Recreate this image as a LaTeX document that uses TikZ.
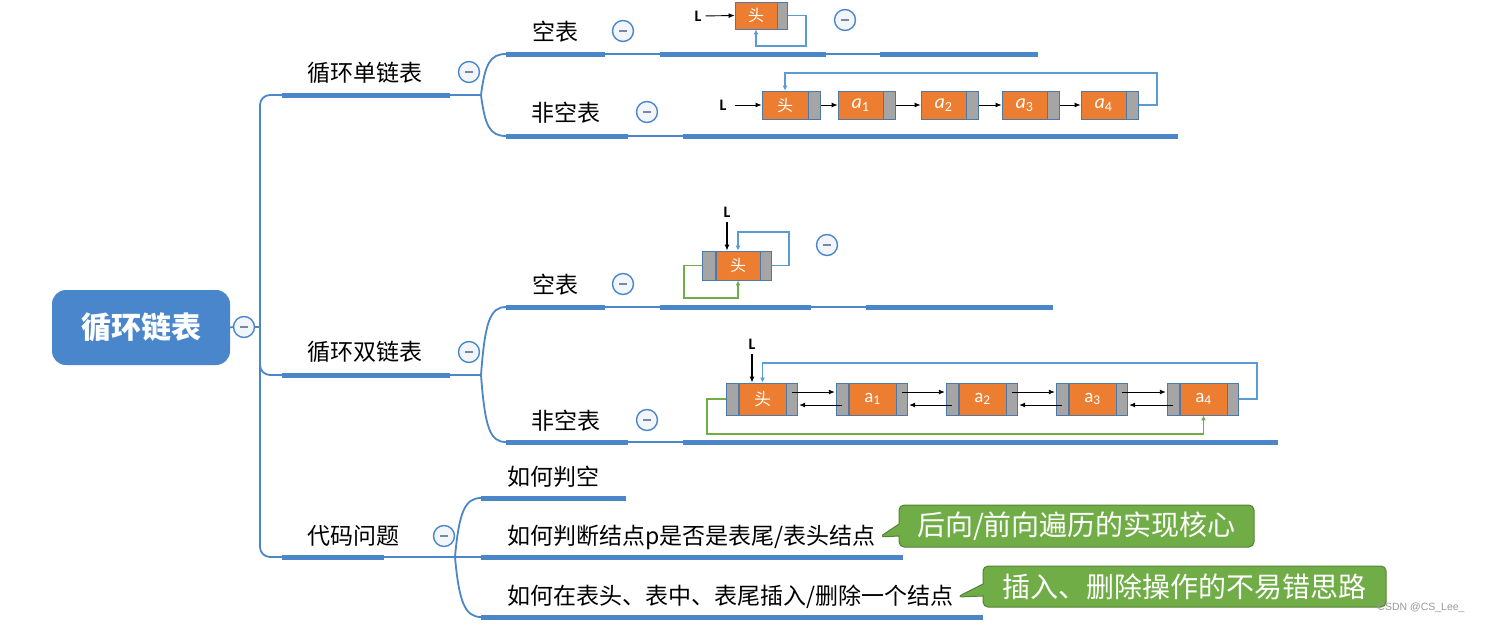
\documentclass[tikz,border=0pt]{standalone}
\usepackage{fontspec}
\setmainfont{Noto Sans CJK SC}
\newfontfamily\carl{Carlito}
\newfontfamily\libs{Liberation Sans}
\usetikzlibrary{arrows.meta,shapes.callouts}
\definecolor{mblue}{HTML}{4A86C8}
\definecolor{rootblue}{HTML}{4A86CB}
\definecolor{orng}{HTML}{ED7D31}
\definecolor{gry}{HTML}{A5A5A5}
\definecolor{edgeb}{HTML}{4D79A8}
\definecolor{lblue}{HTML}{5B9BD5}
\definecolor{grn}{HTML}{70AD47}
\definecolor{dgrn}{HTML}{548235}
\definecolor{togfill}{HTML}{F2F5FA}
\definecolor{minusc}{HTML}{7A86A8}
\begin{document}
\begin{tikzpicture}[x=1pt,y=-1pt,
  mline/.style={mblue,line width=1.8pt},
  mbar/.style={mblue,line width=5pt},
  toggle/.style={circle,draw=mblue,line width=1.4pt,fill=togfill,minimum size=21pt,inner sep=0pt,
    path picture={\draw[minusc,line width=1.3pt] ([xshift=-4pt]path picture bounding box.center) -- ([xshift=4pt]path picture bounding box.center);}},
  lab/.style={font=\fontsize{23}{23}\selectfont,inner sep=0pt},
  obox/.style={draw=edgeb,line width=0.8pt,fill=orng,text=white,inner sep=0pt},
  gbox/.style={draw=edgeb,line width=0.8pt,fill=gry,inner sep=0pt},
  lfont/.style={font=\carl\bfseries\fontsize{16}{16}\selectfont,inner sep=0pt},
  arr/.style={black,line width=0.9pt,-{Latex[length=6pt,width=5pt]}},
  bloop/.style={lblue,line width=1.2pt,-{Latex[length=5pt,width=5pt]}},
  gloop/.style={grn,line width=1.4pt,-{Latex[length=5pt,width=5pt]}},
  callbox/.style={rectangle callout,fill=grn,draw=dgrn,line width=1pt,rounded corners=5pt,
    text=white,font=\fontsize{28}{28}\selectfont,inner sep=0pt,callout pointer width=12pt}
]
\useasboundingbox (0,0) rectangle (1494,624);

% ---------- root ----------
\node[rectangle,rounded corners=14pt,fill=rootblue,minimum width=178pt,minimum height=75pt,
  text=white,font=\bfseries\fontsize{30}{30}\selectfont] (root) at (141,327.5) {循环链表};
\node[toggle] (rt) at (244,327) {};
\coordinate (tm) at (260,327);
\draw[mline] (root.east) -- (rt.west);
\draw[mline] (rt.east) -- (tm);

% ---------- trunk ----------
\coordinate (t1) at (282,95);
\coordinate (t2) at (282,375);
\coordinate (t3) at (282,557);
\coordinate (tk2) at (260,340);
\coordinate (tkb) at (260,557);
\draw[mline,rounded corners=10pt] (t1) -| (tkb) -- (t3);
\draw[mline,rounded corners=10pt] (tk2) |- (t2);

% ---------- group 1 : 循环单链表 ----------
\node[lab] (g1) at (365,73) {循环单链表};
\node[toggle] (g1t) at (469,72) {};
\coordinate (g1e) at (450,95);
\coordinate (bp1) at (481,95);
\draw[mbar] (t1) -- (g1e);
\draw[mline] (g1e) -- (bp1);
\coordinate (u1a) at (506,54); \coordinate (u1b) at (605,54);
\coordinate (u1c) at (660,54); \coordinate (u1d) at (826,54);
\coordinate (u1e) at (880,54); \coordinate (u1f) at (1038,54);
\draw[mline] (bp1) .. controls (485,64) and (490,54) .. (u1a);
\draw[mbar] (u1a) -- (u1b);
\draw[mline] (u1b) -- (u1c);
\draw[mbar] (u1c) -- (u1d);
\draw[mline] (u1d) -- (u1e);
\draw[mbar] (u1e) -- (u1f);
\coordinate (d1a) at (506,136); \coordinate (d1b) at (628,136);
\coordinate (d1c) at (683,136); \coordinate (d1d) at (1178,136);
\draw[mline] (bp1) .. controls (485,126) and (490,136) .. (d1a);
\draw[mbar] (d1a) -- (d1b);
\draw[mline] (d1b) -- (d1c);
\draw[mbar] (d1c) -- (d1d);
\node[lab] (k1) at (555,32) {空表};
\node[toggle] (k1t) at (623,31) {};
\node[lab] (n1) at (566,113) {非空表};
\node[toggle] (n1t) at (647,112) {};

% singly empty
\node[obox,minimum width=42pt,minimum height=27pt,font=\fontsize{16}{16}\selectfont] (e1) at (756,15.5) {头};
\node[gbox,minimum width=10pt,minimum height=27pt,anchor=west] (e1g) at (e1.east) {};
\node[lfont] (e1L) at (698,16) {L};
\draw[arr,shorten <=4pt] (e1L.east) -- (e1.west);
\draw[bloop] (e1g.east) -| (806,46) -| (e1.south);
\node[toggle] (e1t) at (845,20) {};

% singly non-empty
\node[obox,minimum width=46pt,minimum height=28pt,font=\fontsize{16}{16}\selectfont] (s0) at (785,105) {头};
\node[gbox,minimum width=12pt,minimum height=28pt,anchor=west] (sg0) at (s0.east) {};
\foreach \i/\x in {1/860.5,2/943.5,3/1024.5,4/1103.5}{
  \node[obox,minimum width=45pt,minimum height=28pt,font=\carl\fontsize{20}{20}\selectfont] (s\i) at (\x,105) {{\itshape a}\textsubscript{\i}};
  \node[gbox,minimum width=12pt,minimum height=28pt,anchor=west] (sg\i) at (s\i.east) {};
}
\foreach \i/\j in {0/1,1/2,2/3,3/4}{
  \draw[arr] (sg\i.east) -- (s\j.west);
}
\node[lfont] (sL) at (723,105) {L};
\draw[arr,shorten <=8pt] (sL.east) -- (s0.west);
\draw[bloop] (sg4.east) -| (1157,73) -| (s0.north);

% ---------- group 2 : 循环双链表 ----------
\node[lab] (g2) at (365,352) {循环双链表};
\node[toggle] (g2t) at (469,352) {};
\coordinate (g2e) at (450,375);
\coordinate (bp2) at (481,375);
\draw[mbar] (t2) -- (g2e);
\draw[mline] (g2e) -- (bp2);
\coordinate (u2a) at (506,307); \coordinate (u2b) at (605,307);
\coordinate (u2c) at (660,307); \coordinate (u2d) at (811,307);
\coordinate (u2e) at (866,307); \coordinate (u2f) at (1053,307);
\draw[mline] (bp2) .. controls (485,322) and (490,307) .. (u2a);
\draw[mbar] (u2a) -- (u2b);
\draw[mline] (u2b) -- (u2c);
\draw[mbar] (u2c) -- (u2d);
\draw[mline] (u2d) -- (u2e);
\draw[mbar] (u2e) -- (u2f);
\coordinate (d2a) at (506,442); \coordinate (d2b) at (628,442);
\coordinate (d2c) at (683,442); \coordinate (d2d) at (1278,442);
\draw[mline] (bp2) .. controls (485,428) and (490,442) .. (d2a);
\draw[mbar] (d2a) -- (d2b);
\draw[mline] (d2b) -- (d2c);
\draw[mbar] (d2c) -- (d2d);
\node[lab] (k2) at (555,285) {空表};
\node[toggle] (k2t) at (623,284) {};
\node[lab] (n2) at (566,421) {非空表};
\node[toggle] (n2t) at (647,420) {};

% doubly empty
\node[obox,minimum width=44pt,minimum height=29pt,font=\fontsize{16}{16}\selectfont] (e2) at (738,265.5) {头};
\node[gbox,minimum width=13pt,minimum height=29pt,anchor=east] (e2l) at (e2.west) {};
\node[gbox,minimum width=11pt,minimum height=29pt,anchor=west] (e2r) at (e2.east) {};
\node[lfont] (e2L) at (727,212) {L};
\draw[black,line width=1.3pt,-{Latex[length=6pt,width=5pt]},shorten <=5pt] (e2L.south) -- (e2L.south |- e2.north);
\draw[bloop] (e2r.east) -| (789,232) -| (e2.north);
\draw[gloop] (e2l.west) -| (684,298) -| (e2.south);
\node[toggle] (e2t) at (827,245) {};

% doubly non-empty
\node[obox,minimum width=47pt,minimum height=32pt,font=\fontsize{17}{17}\selectfont] (d0) at (762.5,399) {头};
\node[gbox,minimum width=12pt,minimum height=32pt,anchor=east] (dl0) at (d0.west) {};
\node[gbox,minimum width=11pt,minimum height=32pt,anchor=west] (dr0) at (d0.east) {};
\foreach \i/\x in {1/872.5,2/982.5,3/1092.5,4/1203.5}{
  \node[obox,minimum width=47pt,minimum height=32pt,font=\carl\fontsize{19}{19}\selectfont] (d\i) at (\x,399) {a\textsubscript{\i}};
  \node[gbox,minimum width=12pt,minimum height=32pt,anchor=east] (dl\i) at (d\i.west) {};
  \node[gbox,minimum width=11pt,minimum height=32pt,anchor=west] (dr\i) at (d\i.east) {};
}
\foreach \i/\j in {0/1,1/2,2/3,3/4}{
  \draw[arr] ([yshift=7pt]dr\i.center) -- ([yshift=7pt,xshift=-1pt]dl\j.west);
  \draw[arr] ([yshift=-6pt]dl\j.center) -- ([yshift=-6pt,xshift=1pt]dr\i.east);
}
\node[lfont] (dL) at (752,344) {L};
\draw[black,line width=1.3pt,-{Latex[length=6pt,width=5pt]},shorten <=5pt] (dL.south) -- (dL.south |- d0.north);
\draw[bloop] (dr4.east) -| (1257,363) -| (d0.north);
\draw[gloop] (dl0.west) -| (707,434) -| (d4.south);

% ---------- group 3 : 代码问题 ----------
\node[lab] (g3) at (353,536) {代码问题};
\node[toggle] (g3t) at (444,536) {};
\coordinate (g3e) at (384,557);
\coordinate (bp3) at (455,557);
\coordinate (q2a) at (481,557);
\draw[mbar] (t3) -- (g3e);
\draw[mline] (g3e) -- (q2a);
\coordinate (q1a) at (481,498); \coordinate (q1b) at (626,498);
\coordinate (q2b) at (903,557);
\coordinate (q3a) at (481,617); \coordinate (q3b) at (983,617);
\draw[mline] (bp3) .. controls (459,512) and (465,498) .. (q1a);
\draw[mline] (bp3) .. controls (459,602) and (465,617) .. (q3a);
\draw[mbar] (q1a) -- (q1b);
\draw[mbar] (q2a) -- (q2b);
\draw[mbar] (q3a) -- (q3b);
\node[lab,anchor=west] (q1) at (507,477) {如何判空};
\node[lab,anchor=west] (q2) at (507,537) {如何判断结点p是否是表尾/表头结点};
\node[lab,anchor=west] (q3) at (507,597) {如何在表头、表中、表尾插入/删除一个结点};

\node[callbox,minimum width=355pt,minimum height=42pt,callout absolute pointer={([xshift=4pt]q2.east)}] (c1) at (1076.5,526) {后向/前向遍历的实现核心};
\node[callbox,minimum width=403pt,minimum height=41pt,callout absolute pointer={([xshift=4pt]q3.east)}] (c2) at (1184.5,586.5) {插入、删除操作的不易错思路};

\node[font=\libs\fontsize{10.5}{10.5}\selectfont,text=gray!80,inner sep=0pt] (wm) at (1421,608) {CSDN @CS\_Lee\_};
\end{tikzpicture}
\end{document}
